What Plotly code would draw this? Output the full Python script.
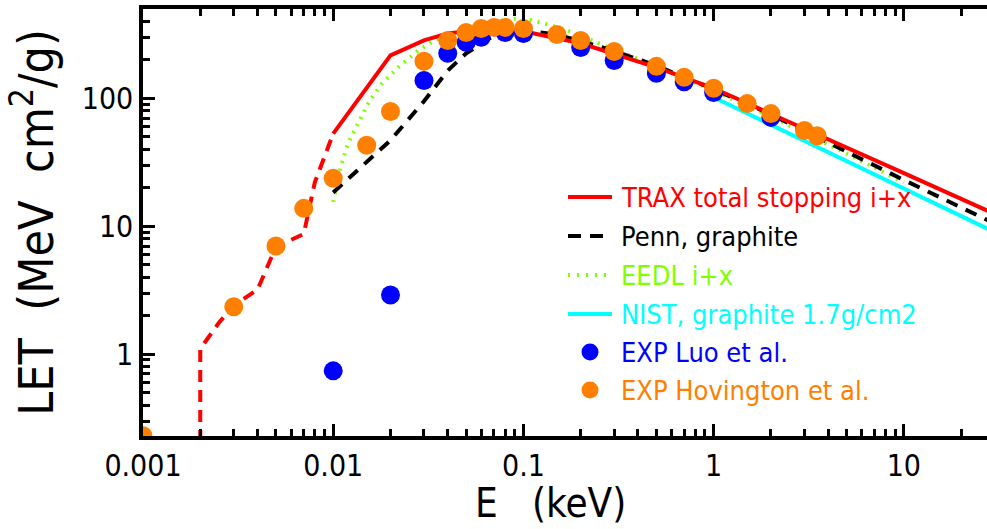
import numpy as np
import plotly.graph_objects as go

# ---- data (E in keV, LET in MeV cm^2/g) ----
trax_low_E = [0.002, 0.002, 0.0025, 0.003, 0.004, 0.005, 0.007, 0.008, 0.01]
trax_low_L = [0.1, 1.1, 1.75, 2.4, 3.2, 6.9, 8.7, 22, 53]

trax_E = [0.01, 0.02, 0.03, 0.04, 0.06, 0.1, 0.2, 0.5, 1, 2, 5, 10, 30]
trax_L = [53, 217, 284, 322, 345, 335, 270, 175, 120, 76, 41, 26, 12.5]

penn_E = [0.01, 0.015, 0.02, 0.03, 0.04, 0.05, 0.07, 0.1, 0.15, 0.2, 0.3, 0.5, 1, 2, 5, 10, 30]
penn_L = [18.4, 32, 47, 95, 165, 225, 310, 340, 315, 280, 235, 180, 118, 75, 38, 23, 10.5]

eedl_E = [0.01, 0.011, 0.012, 0.0135, 0.0155, 0.018, 0.022, 0.028, 0.034, 0.046,
          0.064, 0.09, 0.11, 0.14, 0.18, 0.3, 0.5, 1, 2, 5, 10]
eedl_L = [15.5, 30, 45, 64, 95, 130, 175, 237, 284, 328,
          385, 420, 410, 372, 330, 240, 180, 115, 72, 37, 22]

nist_E = [1, 2, 5, 10, 30]
nist_L = [102, 62, 32, 19.6, 9.0]

luo_E = [0.01, 0.02, 0.03, 0.04, 0.05, 0.06, 0.08, 0.1, 0.2, 0.3, 0.5, 0.7, 1, 2]
luo_L = [0.74, 2.9, 138, 225, 274, 300, 328, 322, 250, 198, 157, 135, 111, 71]

hov_E = [0.001, 0.003, 0.005, 0.007, 0.01, 0.015, 0.02, 0.03, 0.04, 0.05, 0.06, 0.07,
         0.08, 0.1, 0.15, 0.2, 0.3, 0.5, 0.7, 1, 1.5, 2, 3, 3.5]
hov_L = [0.23, 2.35, 7.0, 13.8, 23.7, 43, 79, 195, 284, 328, 352, 359,
         359, 352, 316, 284, 233, 178, 146, 120, 91, 76, 56, 51]

x_ticks = [0.001, 0.01, 0.1, 1, 10]
x_tick_text = ["0.001", "0.01", "0.1", "1", "10"]
y_ticks = [1, 10, 100]
y_tick_text = ["1", "10", "100"]

legend_items = [
    ("TRAX total stopping i+x", "#ff0000", "line", "solid"),
    ("Penn, graphite", "#000000", "line", "dash"),
    ("EEDL i+x", "#80ff00", "line", "dot"),
    ("NIST, graphite 1.7g/cm2", "#00ffff", "line", "solid"),
    ("EXP Luo et al.", "#0000ff", "marker", None),
    ("EXP Hovington et al.", "#ff8000", "marker", None),
]

RED, BLACK, GREEN, CYAN, BLUE, ORANGE = (c for _, c, _, _ in legend_items)
FONT = "Liberation Sans Narrow, Arial Narrow, DejaVu Sans Condensed, sans-serif"

fig = go.Figure()

fig.add_trace(go.Scatter(x=trax_low_E, y=trax_low_L, mode="lines",
                         line=dict(color=RED, width=4, dash="12px,8px"), showlegend=False))
fig.add_trace(go.Scatter(x=eedl_E, y=eedl_L, mode="lines",
                         line=dict(color=GREEN, width=4, dash="2px,6px"), showlegend=False))
fig.add_trace(go.Scatter(x=nist_E, y=nist_L, mode="lines",
                         line=dict(color=CYAN, width=4), showlegend=False))
fig.add_trace(go.Scatter(x=penn_E, y=penn_L, mode="lines",
                         line=dict(color=BLACK, width=4, dash="12px,9px"), showlegend=False))
fig.add_trace(go.Scatter(x=trax_E, y=trax_L, mode="lines",
                         line=dict(color=RED, width=4), showlegend=False))
fig.add_trace(go.Scatter(x=luo_E, y=luo_L, mode="markers",
                         marker=dict(color=BLUE, size=19, line=dict(width=0)),
                         showlegend=False, cliponaxis=True))
fig.add_trace(go.Scatter(x=hov_E, y=hov_L, mode="markers",
                         marker=dict(color=ORANGE, size=19, line=dict(width=0)),
                         showlegend=False, cliponaxis=True))

# ---- legend and x title drawn in paper coordinates ----
W, H = 987, 529
ML, MR, MT, MB = 143, 0, 9, 93
pw, ph = W - ML - MR, H - MT - MB


def px(xp):
    return (xp - ML) / pw


def py(yp):
    return 1 - (yp - MT) / ph


row_y = [197, 236, 275, 314, 352, 390]
for (label, color, kind, dash), yy in zip(legend_items, row_y):
    if kind == "line":
        fig.add_shape(type="line", xref="paper", yref="paper",
                      x0=px(568), x1=px(612), y0=py(yy), y1=py(yy),
                      line=dict(color=color, width=4,
                                dash={"solid": "solid", "dash": "13px,9px",
                                      "dot": "2px,7px"}[dash]))
    else:
        fig.add_shape(type="circle", xref="paper", yref="paper",
                      xsizemode="pixel", ysizemode="pixel",
                      xanchor=px(590), yanchor=py(yy),
                      x0=-8.5, x1=8.5, y0=-8.5, y1=8.5,
                      fillcolor=color, line=dict(width=0))
    fig.add_annotation(xref="paper", yref="paper", x=px(619), y=py(yy),
                       xanchor="left", yanchor="middle", showarrow=False,
                       text=label, font=dict(family=FONT, size=27, color=color))

fig.add_annotation(xref="paper", yref="paper", x=px(550), y=py(528),
                   xanchor="center", yanchor="bottom", showarrow=False,
                   text="E   (keV)", font=dict(family=FONT, size=40, color="black"))

minor_x = [m * 10.0 ** d for d in range(-3, 2) for m in range(2, 10)]
minor_y = [m * 10.0 ** d for d in range(-1, 3) for m in range(2, 10)]

fig.update_layout(
    width=W, height=H,
    margin=dict(l=ML, r=MR, t=MT, b=MB, pad=0),
    paper_bgcolor="white", plot_bgcolor="white",
    showlegend=False,
    font=dict(family=FONT, color="black"),
    xaxis=dict(
        type="log", range=[-3, 1.437],
        tickmode="array", tickvals=x_ticks, ticktext=x_tick_text,
        ticks="inside", ticklen=12, tickwidth=3, tickcolor="black",
        minor=dict(ticks="inside", ticklen=7, tickwidth=3, tickcolor="black",
                   tickmode="array", tickvals=minor_x, showgrid=False),
        showline=True, linewidth=3.5, linecolor="black", mirror="ticks",
        showgrid=False, zeroline=False,
        tickfont=dict(family=FONT, size=30),
    ),
    yaxis=dict(
        type="log", range=[np.log10(0.229), np.log10(500)],
        tickmode="array", tickvals=y_ticks, ticktext=y_tick_text,
        ticks="inside", ticklen=12, tickwidth=3, tickcolor="black",
        minor=dict(ticks="inside", ticklen=7, tickwidth=3, tickcolor="black",
                   tickmode="array", tickvals=minor_y, showgrid=False),
        showline=True, linewidth=3.5, linecolor="black", mirror=False,
        showgrid=False, zeroline=False,
        tickfont=dict(family=FONT, size=30),
        title=dict(text="LET  (MeV  cm<sup>2</sup>/g)", font=dict(family=FONT, size=48), standoff=14),
    ),
)

fig.write_html("out.html")
